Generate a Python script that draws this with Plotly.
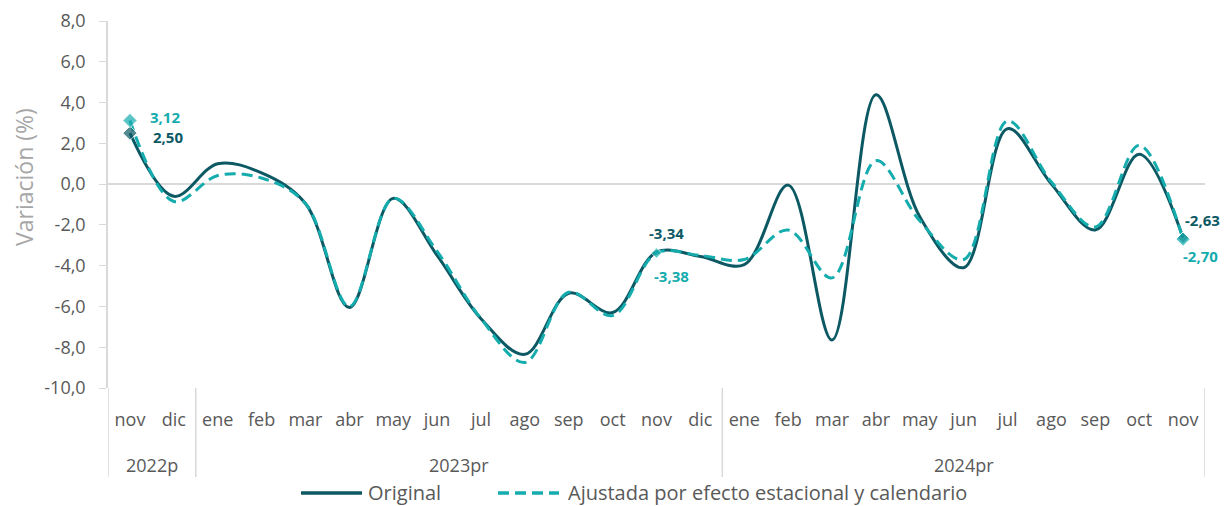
import plotly.graph_objects as go

months = ["nov", "dic",
          "ene", "feb", "mar", "abr", "may", "jun", "jul", "ago", "sep", "oct", "nov", "dic",
          "ene", "feb", "mar", "abr", "may", "jun", "jul", "ago", "sep", "oct", "nov"]
years = ["2022p"] * 2 + ["2023pr"] * 12 + ["2024pr"] * 11

original = [2.50, -0.60, 1.00, 0.55, -0.95, -6.05, -0.70, -3.50, -6.60, -8.35, -5.35, -6.30, -3.34,
            -3.55, -3.95, -0.05, -7.65, 4.38, -1.60, -4.10, 2.72, 0.00, -2.25, 1.47, -2.63]
ajustada = [3.12, -0.85, 0.42, 0.30, -0.95, -6.00, -0.70, -3.30, -6.60, -8.75, -5.30, -6.45, -3.38,
            -3.50, -3.70, -2.25, -4.60, 1.15, -1.80, -3.70, 3.10, 0.10, -2.10, 1.90, -2.70]

series_names = ["Original", "Ajustada por efecto estacional y calendario"]
label_idx = [0, 12, 24]

ytick_vals = [8, 6, 4, 2, 0, -2, -4, -6, -8, -10]
ytick_text = ["8,0", "6,0", "4,0", "2,0", "0,0", "-2,0", "-4,0", "-6,0", "-8,0", "-10,0"]

C_ORIG = "#0C5964"
C_AJUS = "#15ACAE"
C_TXT = "#595959"
C_GRID = "#D9D9D9"
FONT = "Open Sans"
DASH = "11px,6px"

# page body has an 8px margin: figure is sized so that the plot lands where the reference has it
W, H = 1220, 498
ML, MR, MT, MB = 100, 23, 13, 118
PW = W - ML - MR
PH = H - MT - MB
BOTTOM = 8 + H - MB  # absolute pixel row of the plot bottom

def px_x(dx):  # pixel offset from plot left -> paper x
    return dx / PW

def px_y(dy):  # pixel offset below plot bottom -> paper y
    return -dy / PH

xs = list(range(len(months)))

fig = go.Figure()
fig.add_trace(go.Scatter(
    x=xs, y=original, mode="lines", name=series_names[0], showlegend=False,
    line=dict(color=C_ORIG, width=3, shape="spline", smoothing=1.0)))
fig.add_trace(go.Scatter(
    x=xs, y=ajustada, mode="lines", name=series_names[1], showlegend=False,
    line=dict(color=C_AJUS, width=3, dash=DASH, shape="spline", smoothing=1.0)))

fig.add_trace(go.Scatter(
    x=[xs[i] for i in label_idx], y=[original[i] for i in label_idx],
    mode="markers", showlegend=False, hoverinfo="skip",
    marker=dict(symbol="diamond", size=[11, 0, 9], color=C_ORIG)))
fig.add_trace(go.Scatter(
    x=[xs[i] for i in label_idx], y=[ajustada[i] for i in label_idx],
    mode="markers", showlegend=False, hoverinfo="skip",
    marker=dict(symbol="diamond", size=[11, 8, 11], color=C_AJUS)))

def fmt(v):
    return f"{v:.2f}".replace(".", ",")

orig_shift = [(38, -4), (10, 19), (19, 18)]
ajus_shift = [(35, 4), (15, -23), (17, -17)]
for k, i in enumerate(label_idx):
    fig.add_annotation(x=xs[i], y=original[i], xref="x", yref="y", text=fmt(original[i]),
                       showarrow=False, xshift=orig_shift[k][0], yshift=orig_shift[k][1],
                       font=dict(color=C_ORIG, size=15, family=FONT, weight="bold"))
    fig.add_annotation(x=xs[i], y=ajustada[i], xref="x", yref="y", text=fmt(ajustada[i]),
                       showarrow=False, xshift=ajus_shift[k][0], yshift=ajus_shift[k][1],
                       font=dict(color=C_AJUS, size=15, family=FONT, weight="bold"))

# year group labels and dividers
groups = []
for i, yname in enumerate(years):
    if not groups or groups[-1][0] != yname:
        groups.append([yname, i, i])
    else:
        groups[-1][2] = i
for yname, a, b in groups:
    fig.add_annotation(x=(a + b) / 2, y=px_y(77), xref="x", yref="paper", text=yname,
                       showarrow=False, yanchor="middle",
                       font=dict(size=18, color=C_TXT, family=FONT))
bounds = [groups[0][1] - 0.5] + [g[2] + 0.5 for g in groups]
for bx in bounds:
    fig.add_shape(type="line", xref="x", yref="paper", x0=bx, x1=bx, y0=0, y1=px_y(89),
                  line=dict(color=C_GRID, width=1.5))

# y-axis title
fig.add_annotation(x=px_x(24 - 108), y=(BOTTOM - 177) / PH, xref="paper", yref="paper",
                   text="Variación (%)", textangle=-90, showarrow=False,
                   xanchor="center", yanchor="middle",
                   font=dict(size=23, color="#A6A6A6", family=FONT))

# legend drawn by hand
leg_y = px_y(105)
leg_items = [(301, 366, C_ORIG, "solid"), (498, 566, C_AJUS, DASH)]
for (x0, xt, col, dash), name in zip(leg_items, series_names):
    fig.add_shape(type="line", xref="paper", yref="paper",
                  x0=px_x(x0 - 108), x1=px_x(x0 + 61 - 108), y0=leg_y, y1=leg_y,
                  line=dict(color=col, width=3.5, dash=dash))
    fig.add_annotation(x=px_x(xt - 108), y=leg_y, xref="paper", yref="paper", text=name,
                       showarrow=False, xanchor="left", yanchor="middle",
                       font=dict(size=20, color=C_TXT, family=FONT))

fig.update_layout(
    width=W, height=H,
    margin=dict(l=ML, r=MR, t=MT, b=MB, autoexpand=False),
    plot_bgcolor="white", paper_bgcolor="white",
    font=dict(family=FONT, color=C_TXT, size=18),
    showlegend=False,
)
fig.update_xaxes(range=[-0.5, len(months) - 0.5], tickvals=xs, ticktext=months,
                 showgrid=False, showline=False, zeroline=False, ticks="outside", ticklen=0,
                 ticklabelstandoff=15, automargin=False, ticklabeloverflow="allow",
                 tickfont=dict(size=18, color=C_TXT))
fig.update_yaxes(range=[-10, 8], tickvals=ytick_vals, ticktext=ytick_text,
                 showgrid=False, zeroline=True, zerolinecolor=C_GRID, zerolinewidth=1.5,
                 showline=True, linecolor=C_GRID, linewidth=1.5,
                 ticks="outside", ticklen=7, tickcolor=C_GRID, automargin=False,
                 ticklabelstandoff=10, ticklabeloverflow="allow",
                 tickfont=dict(size=18, color=C_TXT))

fig.write_html("out.html")
